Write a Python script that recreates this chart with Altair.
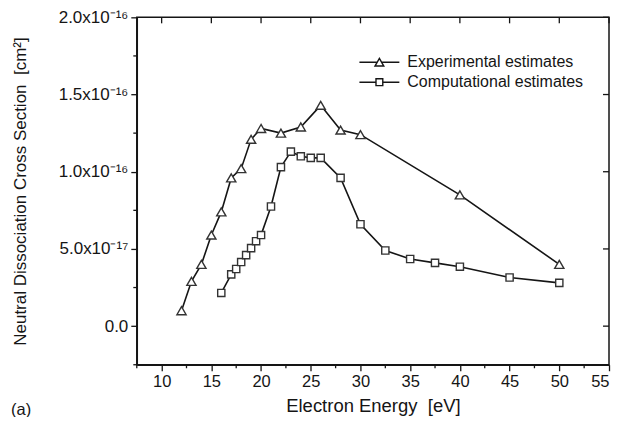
import altair as alt
import pandas as pd

# ---- data ----
exp_x = [12, 13, 14, 15, 16, 17, 18, 19, 20, 22, 24, 26, 28, 30, 40, 50]
exp_y = [1.0e-17, 2.9e-17, 4.0e-17, 5.9e-17, 7.4e-17, 9.6e-17, 1.02e-16, 1.21e-16,
         1.28e-16, 1.25e-16, 1.29e-16, 1.43e-16, 1.27e-16, 1.24e-16, 8.5e-17, 4.0e-17]

comp_x = [16, 17, 17.5, 18, 18.5, 19, 19.5, 20, 21, 22, 23, 24, 25, 26, 28, 30,
          32.5, 35, 37.5, 40, 45, 50]
comp_y = [2.15e-17, 3.35e-17, 3.7e-17, 4.15e-17, 4.6e-17, 5.05e-17, 5.5e-17, 5.9e-17,
          7.75e-17, 1.03e-16, 1.13e-16, 1.10e-16, 1.09e-16, 1.09e-16, 9.6e-17, 6.6e-17,
          4.9e-17, 4.35e-17, 4.1e-17, 3.85e-17, 3.15e-17, 2.8e-17]

series_names = ["Experimental estimates", "Computational estimates"]

x_major = [10, 15, 20, 25, 30, 35, 40, 45, 50, 55]
x_minor = [7.5, 12.5, 17.5, 22.5, 27.5, 32.5, 37.5, 42.5, 47.5, 52.5]
y_major = [0.0, 5e-17, 1e-16, 1.5e-16, 2e-16]
y_minor = [-2.5e-17, 2.5e-17, 7.5e-17, 1.25e-16, 1.75e-16]

x_domain = [7.5, 55]
y_domain = [-2.5e-17, 2e-16]

W, H = 473, 348
FONT = "Liberation Sans"
INK = "#151515"

exp_df = pd.DataFrame({"x": exp_x, "y": exp_y, "series": series_names[0]})
comp_df = pd.DataFrame({"x": comp_x, "y": comp_y, "series": series_names[1]})
xmaj_df = pd.DataFrame({"v": x_major})
xmin_df = pd.DataFrame({"v": x_minor})
ymaj_df = pd.DataFrame({"v": y_major})
ymin_df = pd.DataFrame({"v": y_minor})

xs = alt.Scale(domain=x_domain, nice=False, zero=False)
ys = alt.Scale(domain=y_domain, nice=False, zero=False)

y_label_expr = (
    "datum.value > 1.7e-16 ? '2.0x10\u207b\u00b9\u2076' : "
    "datum.value > 1.2e-16 ? '1.5x10\u207b\u00b9\u2076' : "
    "datum.value > 7e-17 ? '1.0x10\u207b\u00b9\u2076' : "
    "datum.value > 2e-17 ? '5.0x10\u207b\u00b9\u2077' : '0.0'"
)

x_axis = alt.Axis(values=x_major, title="Electron Energy \u00a0[eV]", tickSize=6,
                  labelPadding=3, titlePadding=6, grid=False, titleFontSize=18.5,
                  labelFontSize=16.5)
y_axis = alt.Axis(values=y_major,
                  title="Neutral Dissociation Cross Section \u00a0[cm\u00b2]",
                  tickSize=6, labelPadding=3, labelExpr=y_label_expr, grid=False,
                  titleX=-116, titleBaseline="middle", titleFontSize=17,
                  labelFontSize=17)

X = alt.X("x:Q", scale=xs, axis=x_axis)
Y = alt.Y("y:Q", scale=ys, axis=y_axis)
XV = alt.X("v:Q", scale=xs, axis=x_axis)
YV = alt.Y("v:Q", scale=ys, axis=y_axis)

TRI_PATH = "M-1,0H-0.11M0.11,0H1M0,-0.19L0.22,0.19L-0.22,0.19Z"
SQ_PATH = "M-1,0H-0.17M0.17,0H1M-0.17,-0.17H0.17V0.17H-0.17Z"


def legend(path, ly):
    return alt.Legend(title=None, orient="none", legendX=222, legendY=ly,
                      symbolType=path, symbolSize=1600, symbolStrokeWidth=1.4,
                      symbolFillColor="white", symbolStrokeColor=INK,
                      labelFontSize=16, labelFont=FONT, labelColor=INK,
                      labelOffset=7, labelLimit=400, padding=0)


exp_line = alt.Chart(exp_df).mark_line(strokeWidth=1.6).encode(
    x=X, y=Y,
    color=alt.Color("series:N", scale=alt.Scale(domain=[series_names[0]], range=[INK]),
                    legend=legend(TRI_PATH, 24)),
)
comp_line = alt.Chart(comp_df).mark_line(strokeWidth=1.6).encode(
    x=X, y=Y,
    color=alt.Color("series:N", scale=alt.Scale(domain=[series_names[1]], range=[INK]),
                    legend=legend(SQ_PATH, 44)),
)
exp_pts = alt.Chart(exp_df).mark_point(shape="triangle-up", size=85, filled=True,
                                        fill="white", stroke="#333", strokeWidth=1.4,
                                        opacity=1).encode(x=X, y=Y)
comp_pts = alt.Chart(comp_df).mark_point(shape="square", size=52, filled=True,
                                          fill="white", stroke="#333", strokeWidth=1.4,
                                          opacity=1).encode(x=X, y=Y)

# minor outward ticks (bottom / left)
xmin_ticks = alt.Chart(xmin_df).mark_rule(color=INK, strokeWidth=1.3).encode(
    x=XV, y=alt.value(H), y2=alt.value(H + 3.5))
ymin_ticks = alt.Chart(ymin_df).mark_rule(color=INK, strokeWidth=1.3).encode(
    y=YV, x=alt.value(0), x2=alt.value(-3.5))
# inward ticks on top / right
top_ticks = alt.Chart(xmaj_df).mark_rule(color=INK, strokeWidth=1.3).encode(
    x=XV, y=alt.value(0), y2=alt.value(6))
right_ticks = alt.Chart(ymaj_df).mark_rule(color=INK, strokeWidth=1.3).encode(
    y=YV, x=alt.value(W), x2=alt.value(W - 6))

panel_label = alt.Chart(pd.DataFrame({"t": ["(a)"]})).mark_text(
    align="left", baseline="middle", fontSize=16.5, font=FONT, color=INK).encode(
    text="t:N", x=alt.value(-126), y=alt.value(H + 45))

chart = alt.layer(
    exp_line, comp_line, exp_pts, comp_pts,
    xmin_ticks, ymin_ticks, top_ticks, right_ticks, panel_label,
).resolve_scale(color="independent").properties(
    width=W, height=H,
    autosize=alt.AutoSizeParams(type="none"),
    padding={"left": 129, "top": 9, "right": 2, "bottom": 52},
).configure_view(stroke=INK, strokeWidth=1.5).configure_axis(
    labelFont=FONT, titleFont=FONT,
    labelColor=INK, titleColor=INK, titleFontWeight="normal",
    domainColor=INK, domainWidth=1.5, tickColor=INK, tickWidth=1.3,
)

chart.save("out.html", embed_options={"renderer": "svg", "actions": False})
